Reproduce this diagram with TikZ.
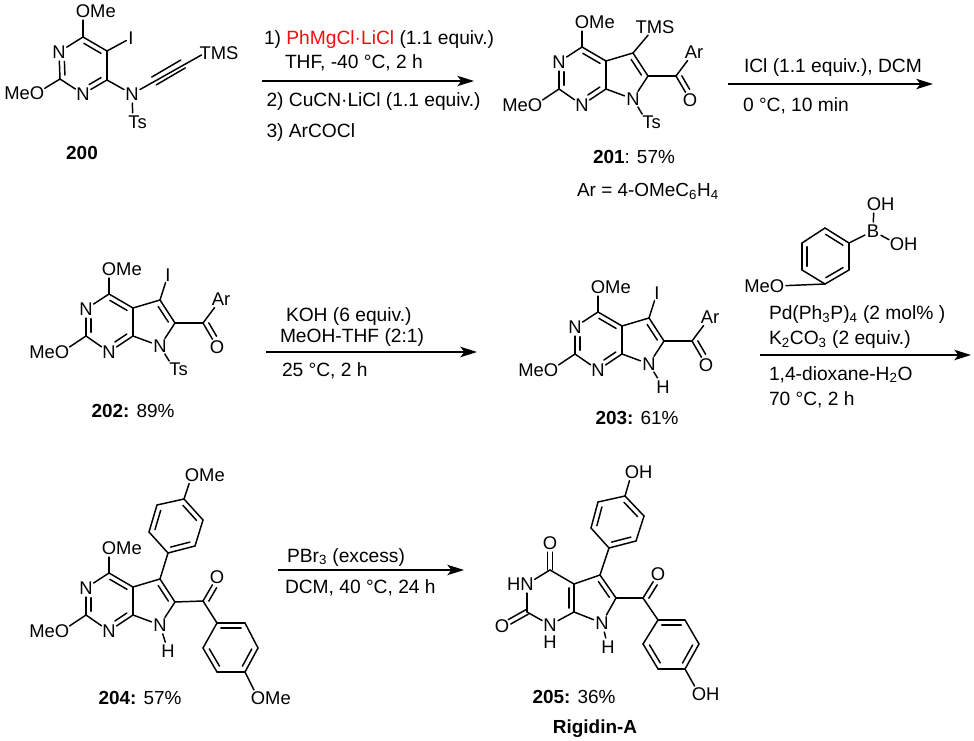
\documentclass[tikz,border=0pt]{standalone}
\usepackage{fontspec}
\setmainfont{Liberation Sans}
\usetikzlibrary{calc,arrows.meta}
\tikzset{
  bond/.style={line width=1.1pt,line cap=round,line join=round},
  lab/.style={inner sep=0pt,outer sep=0pt,anchor=base,font=\fontsize{13.8}{16}\selectfont},
  rtxt/.style={inner sep=0pt,outer sep=0pt,anchor=base west,font=\fontsize{14.4}{16}\selectfont},
  ctxt/.style={inner sep=0pt,outer sep=0pt,anchor=base,font=\fontsize{14.2}{16}\selectfont},
  toL/.style={shorten >=6.8pt},
  fromL/.style={shorten <=6.8pt},
  bothL/.style={shorten >=6.8pt,shorten <=6.8pt},
  rxn/.style={line width=1.25pt,-{Stealth[length=12.5pt,width=7.8pt,inset=3pt]}},
}
\newcommand\atm[4]{\coordinate (#1) at (#2); \node[lab] (#1t) at ($(#1)+(#3,6.5)$) {#4};}
\newcommand\bd[3][]{\draw[bond,#1] (#2) -- (#3);}
\newcommand\dbl[5]{\draw[bond] ($(#2)!#4!(#3)!#1!90:(#3)$) -- ($(#3)!#5!(#2)!#1!-90:(#2)$);}
\newcommand\txt[3]{\node[rtxt] (#1) at (#2) {#3};}
\newcommand\ctx[3]{\node[ctxt] (#1) at (#2) {#3};}
\newcommand\core[1]{%
  \coordinate (#1c4) at (109,294);
  \coordinate (#1c4a) at (133,308);
  \coordinate (#1c7a) at (133,336);
  \coordinate (#1c2) at (86,336);
  \coordinate (#1c5) at (160,300);
  \coordinate (#1c6) at (175,323);
  \atm{#1n1}{86,309}{0}{N}
  \atm{#1n3}{109,352}{0}{N}
  \atm{#1n7}{160,346}{0}{N}
  \atm{#1oa}{109,269}{12.8}{OMe}
  \atm{#1ob}{62,352}{-12.8}{MeO}
  \bd{#1c4}{#1c4a}\dbl{-3.8pt}{#1c4}{#1c4a}{.14}{.14}
  \bd{#1c4a}{#1c7a}
  \bd[toL]{#1c7a}{#1n3}\dbl{-3.8pt}{#1c7a}{#1n3}{.14}{.36}
  \bd[fromL]{#1n3}{#1c2}
  \bd[toL]{#1c2}{#1n1}\dbl{-3.8pt}{#1c2}{#1n1}{.14}{.36}
  \bd[fromL]{#1n1}{#1c4}
  \bd{#1c4a}{#1c5}
  \bd{#1c5}{#1c6}\dbl{-3.8pt}{#1c5}{#1c6}{.16}{.16}
  \bd[toL]{#1c6}{#1n7}
  \bd[toL]{#1c7a}{#1n7}
  \bd[toL]{#1c4}{#1oa}
  \bd[toL]{#1c2}{#1ob}
}
\newcommand\acyl[1]{%
  \coordinate (#1co) at (203,323);
  \atm{#1o}{217,347}{0}{O}
  \atm{#1ar}{221,299}{0}{Ar}
  \bd{#1c6}{#1co}
  \bd[toL]{#1co}{#1o}\dbl{3.8pt}{#1co}{#1o}{.1}{.34}
  \bd[shorten >=8pt]{#1co}{#1ar}
}
\newcommand\nts[1]{%
  \atm{#1ts}{174,369}{4.6}{Ts}
  \bd[shorten <=7pt,shorten >=7pt]{#1n7}{#1ts}
}
\newcommand\aryl[7]{%
  \coordinate (#1a) at (#2); \coordinate (#1b) at (#3); \coordinate (#1c) at (#4);
  \coordinate (#1d) at (#5); \coordinate (#1e) at (#6); \coordinate (#1f) at (#7);
  \bd{#1a}{#1b}\dbl{-3.8pt}{#1a}{#1b}{.14}{.14}
  \bd{#1b}{#1c}
  \bd{#1c}{#1d}\dbl{-3.8pt}{#1c}{#1d}{.14}{.14}
  \bd{#1d}{#1e}
  \bd{#1e}{#1f}\dbl{-3.8pt}{#1e}{#1f}{.14}{.14}
  \bd{#1f}{#1a}
}
\begin{document}
\begin{tikzpicture}[x=.75pt,y=-.75pt]
\useasboundingbox (0,0) rectangle (974,741);

% ---------- 200
\coordinate (a6) at (83,37);
\coordinate (a5) at (107,51);
\coordinate (a4) at (107,80);
\coordinate (a2) at (60,79);
\atm{an3}{83,94}{0}{N}
\atm{an1}{59,52}{0}{N}
\atm{ao6}{83,11}{12.8}{OMe}
\atm{ao2}{37,93}{-12.8}{MeO}
\atm{ai}{131,38}{0}{I}
\atm{an}{132,94}{0}{N}
\atm{ats}{133,122}{4.6}{Ts}
\atm{atms}{205,53}{14}{TMS}
\coordinate (al1) at (154,81);
\coordinate (al2) at (183,64);
\bd{a6}{a5}\dbl{-3.8pt}{a6}{a5}{.14}{.14}
\bd{a5}{a4}
\bd[toL]{a4}{an3}\dbl{-3.8pt}{a4}{an3}{.14}{.36}
\bd[fromL]{an3}{a2}
\bd[toL]{a2}{an1}\dbl{-3.8pt}{a2}{an1}{.14}{.36}
\bd[fromL]{an1}{a6}
\bd[toL]{a6}{ao6}
\bd[toL]{a2}{ao2}
\bd[shorten >=4pt]{a5}{ai}
\bd[toL]{a4}{an}
\bd[bothL]{an}{ats}
\bd[fromL,shorten >=3pt]{an}{atms}
\dbl{3.4pt}{al1}{al2}{0}{0}
\dbl{-3.4pt}{al1}{al2}{0}{0}
\ctx{l200}{82,159.5}{\textbf{200}}

% ---------- arrow 1
\coordinate (a1s) at (262,81);
\coordinate (a1e) at (474,81);
\draw[rxn] (a1s) -- (a1e);
\txt{r1a}{264,45}{1) \textcolor[HTML]{F01010}{PhMgCl·LiCl} (1.1 equiv.)}
\txt{r1b}{285,69}{THF, -40 °C, 2 h}
\txt{r1c}{266.5,107}{2) CuCN·LiCl (1.1 equiv.)}
\txt{r1d}{266.5,138}{3) ArCOCl}

% ---------- 201
\begin{scope}[shift={(473,-247)}]
  \core{b}\acyl{b}\nts{b}
  \atm{btms}{182,274}{0}{TMS}
  \bd[shorten >=8pt]{bc5}{btms}
\end{scope}
\ctx{l201}{634,163.5}{\textbf{201}: 57\%}
\ctx{l201b}{648,196.5}{Ar = 4-OMeC\textsubscript{6}H\textsubscript{4}}

% ---------- arrow 2
\coordinate (a2s) at (728,84);
\coordinate (a2e) at (933,84);
\draw[rxn] (a2s) -- (a2e);
\txt{r2a}{744,73}{ICl (1.1 equiv.), DCM}
\txt{r2b}{743,112}{0 °C, 10 min}

% ---------- 202
\begin{scope}
  \core{c}\acyl{c}\nts{c}
  \atm{ci}{168,275}{0}{I}
  \bd[shorten >=6pt]{cc5}{ci}
\end{scope}
\ctx{l202}{133,417.5}{\textbf{202:} 89\%}

% ---------- arrow 3
\coordinate (a3s) at (266,352);
\coordinate (a3e) at (477,352);
\draw[rxn] (a3s) -- (a3e);
\txt{r3a}{286,322}{KOH (6 equiv.)}
\txt{r3b}{280,343}{MeOH-THF (2:1)}
\txt{r3c}{282,377}{25 °C, 2 h}

% ---------- 203
\begin{scope}[shift={(489,18)}]
  \core{d}\acyl{d}
  \atm{dh}{174,369}{0}{H}
  \bd[shorten <=7pt,shorten >=8pt]{dn7}{dh}
  \atm{di}{168,275}{0}{I}
  \bd[shorten >=6pt]{dc5}{di}
\end{scope}
\ctx{l203}{637,424.5}{\textbf{203:} 61\%}

% ---------- boronic acid
\aryl{e}{825,228}{849,243}{849,270}{825,284}{802,270}{802,243}
\atm{ebor}{873,231}{0}{B}
\atm{eoh1}{874,204}{6.7}{OH}
\atm{eoh2}{897,244}{6.7}{OH}
\atm{eo}{777,286}{-12.8}{MeO}
\bd[toL]{eb}{ebor}
\bd[toL]{ed}{eo}
\bd[bothL]{ebor}{eoh1}
\bd[bothL]{ebor}{eoh2}

% ---------- arrow 4
\coordinate (a4s) at (760,355);
\coordinate (a4e) at (971,355);
\draw[rxn] (a4s) -- (a4e);
\txt{r4a}{769,320}{Pd(Ph\textsubscript{3}P)\textsubscript{4} (2 mol\% )}
\txt{r4b}{769,345}{K\textsubscript{2}CO\textsubscript{3} (2 equiv.)}
\txt{r4c}{769,380}{1,4-dioxane-H\textsubscript{2}O}
\txt{r4d}{769,406}{70 °C, 2 h}

% ---------- 204
\begin{scope}[shift={(0,279)}]
  \core{f}
\end{scope}
\coordinate (fco) at (203,601);
\atm{fo}{217,577}{0}{O}
\atm{fh}{168,651}{0}{H}
\bd[shorten <=7pt,shorten >=7pt]{fn7}{fh}
\bd{fc6}{fco}
\bd[toL]{fco}{fo}\dbl{-3.8pt}{fco}{fo}{.1}{.34}
\aryl{g}{195,546}{168,553}{149,532}{157,505}{184,499}{203,520}
\atm{go}{192,475}{12.8}{OMe}
\bd{fc5}{gb}
\bd[toL]{ge}{go}
\aryl{k}{217,623}{245,623}{258,648}{245,672}{217,672}{203,648}
\atm{ko}{258,698}{12.8}{OMe}
\bd{fco}{ka}
\bd[toL]{kd}{ko}
\ctx{l204}{140,704.5}{\textbf{204:} 57\%}

% ---------- arrow 5
\coordinate (a5s) at (278,570);
\coordinate (a5e) at (464,570);
\draw[rxn] (a5s) -- (a5e);
\txt{r5a}{287,562}{PBr\textsubscript{3} (excess)}
\txt{r5b}{285,593}{DCM, 40 °C, 24 h}

% ---------- 205
\coordinate (h4) at (550,570);
\coordinate (h4a) at (574,584);
\coordinate (h7a) at (574,612);
\coordinate (h2) at (527,612);
\coordinate (h5) at (600,575);
\coordinate (h6) at (616,598);
\coordinate (hco) at (643,598);
\atm{hn3}{527,584}{-6.7}{HN}
\atm{hn1}{550,625}{0}{N}
\atm{hh1}{550,642}{0}{H}
\atm{hn7}{602,623}{0}{N}
\atm{hh7}{608,647}{0}{H}
\atm{ho4}{550,543}{0}{O}
\atm{ho2}{502,626}{0}{O}
\atm{hoc}{658,574}{0}{O}
\bd{h4}{h4a}
\bd{h4a}{h7a}\dbl{-3.8pt}{h4a}{h7a}{.14}{.14}
\bd[toL]{h7a}{hn1}
\bd[fromL]{hn1}{h2}
\bd[toL]{h2}{hn3}
\bd[fromL]{hn3}{h4}
\dbl{1.9pt}{h4}{ho4}{0}{.34}\dbl{-1.9pt}{h4}{ho4}{0}{.34}
\dbl{1.9pt}{h2}{ho2}{0}{.3}\dbl{-1.9pt}{h2}{ho2}{0}{.3}
\bd{h4a}{h5}
\bd{h5}{h6}\dbl{-3.8pt}{h5}{h6}{.16}{.16}
\bd[toL]{h6}{hn7}
\bd[toL]{h7a}{hn7}
\bd[shorten <=7pt,shorten >=7pt]{hn7}{hh7}
\bd{h6}{hco}
\bd[toL]{hco}{hoc}\dbl{-3.8pt}{hco}{hoc}{.1}{.34}
\aryl{m}{636,541}{609,548}{591,528}{598,502}{625,496}{644,516}
\atm{moh}{632,472}{6.7}{OH}
\bd{h5}{mb}
\bd[toL]{me}{moh}
\aryl{n}{658,620}{685,620}{699,644}{685,669}{658,669}{643,644}
\atm{noh}{699,694}{6.7}{OH}
\bd{hco}{na}
\bd[toL]{nd}{noh}
\ctx{l205}{574,703.5}{\textbf{205:} 36\%}
\ctx{l205b}{595,733}{\textbf{Rigidin-A}}
\end{tikzpicture}
\end{document}
